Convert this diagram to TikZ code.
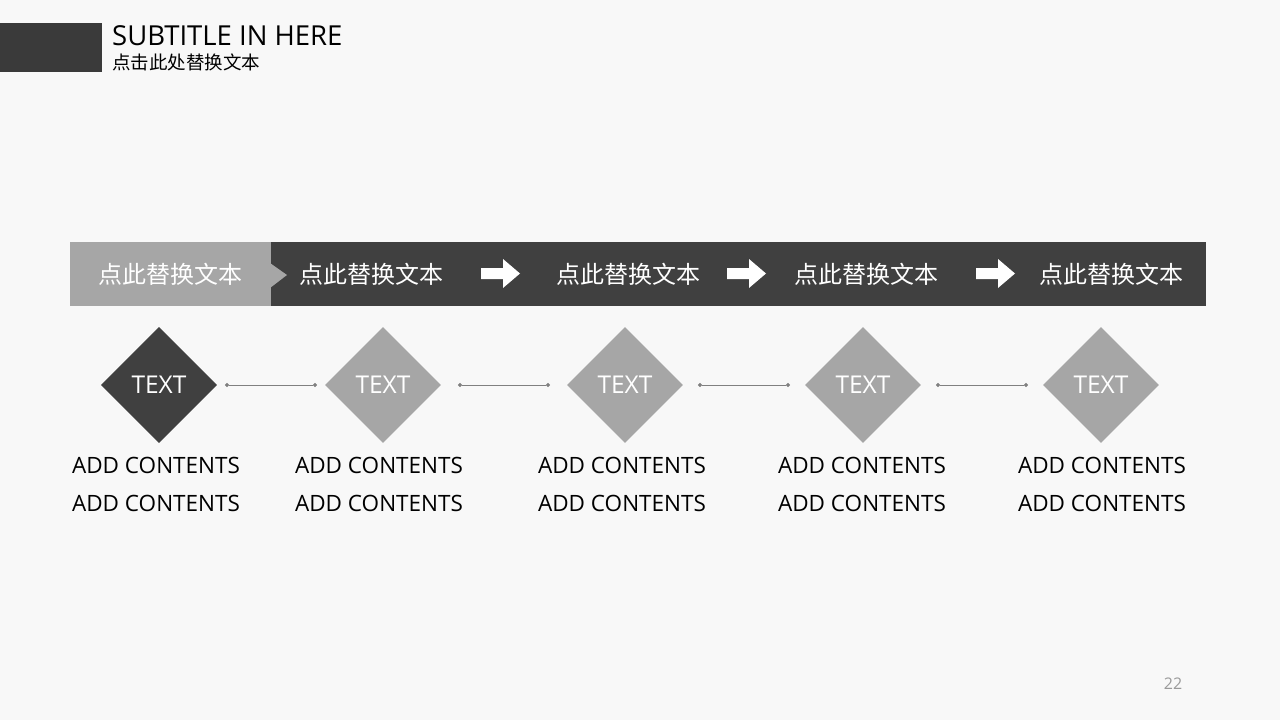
\documentclass[tikz,border=0pt]{standalone}
\usepackage{fontspec}
\setmainfont{Open Sans}
\newfontfamily\cjk{Noto Sans CJK SC}
\usetikzlibrary{shapes.geometric,arrows.meta,calc}
\definecolor{pagebg}{HTML}{F8F8F8}
\definecolor{barDark}{HTML}{404040}
\definecolor{barGrey}{HTML}{A6A6A6}
\definecolor{headDark}{HTML}{3A3A3A}
\definecolor{lineGrey}{HTML}{808080}

\begin{document}
\begin{tikzpicture}[x=1pt,y=-1pt,
    diam/.style={diamond,aspect=1,minimum width=116pt,minimum height=116pt,
      inner sep=0pt,fill=barGrey,text=white,font=\fontsize{24.5}{28}\selectfont},
    barlabel/.style={text=white,inner sep=0pt,font=\cjk\fontsize{24}{28}\selectfont},
    content/.style={inner sep=0pt,font=\fontsize{22.5}{26}\selectfont},
    conn/.style={draw=lineGrey,line width=0.8pt,{Circle[length=4pt]}-{Circle[length=4pt]}}]
    \useasboundingbox (0,0) rectangle (1280,720);
    \fill[pagebg] (0,0) rectangle (1280,720);

    % heading
    \fill[headDark] (0,23) rectangle (102,72);
    \node[anchor=base west,inner sep=0pt,font=\fontsize{27.5}{31}\selectfont] (title) at (112,45) {SUBTITLE IN HERE};
    \node[anchor=base west,inner sep=0pt,font=\cjk\fontsize{18.5}{22}\selectfont] (subtitle) at (112,69) {点击此处替换文本};

    % bar
    \fill[barDark] (70,242) rectangle (1206,306);
    \fill[barGrey] (70,242) rectangle (271,306);
    \fill[barGrey] (270,263) -- (287,275) -- (270,288) -- cycle;
    \foreach \i/\x in {1/170,2/371,3/628,4/866,5/1111}
        \node[barlabel] (b\i) at (\x,274) {点此替换文本};
    \foreach \x in {481,727,976}
        \fill[white] (\x,268) -- (\x+22,268) -- (\x+22,259) -- (\x+39,273.5)
            -- (\x+22,288) -- (\x+22,279) -- (\x,279) -- cycle;

    % steps
    \foreach \i/\dx/\cx in {1/159/156,2/383/379,3/625/622,4/863/862,5/1101/1102} {
        \node[diam] (d\i) at (\dx,385) {TEXT};
        \node[content] (c\i) at (\cx,465.5) {ADD CONTENTS};
        \node[content] (e\i) at (\cx,503.5) {ADD CONTENTS};
    }
    \node[diam,fill=barDark] at (d1) {TEXT};
    \foreach \a/\b in {d1/d2,d2/d3,d3/d4,d4/d5}
        \draw[conn] ($(\a.east)!.5!(\b.west)+(-46,0)$) -- ($(\a.east)!.5!(\b.west)+(46,0)$);

    \node[text=lineGrey!80,font=\fontsize{16}{19}\selectfont] (page) at (1173,684) {22};
\end{tikzpicture}
\end{document}
